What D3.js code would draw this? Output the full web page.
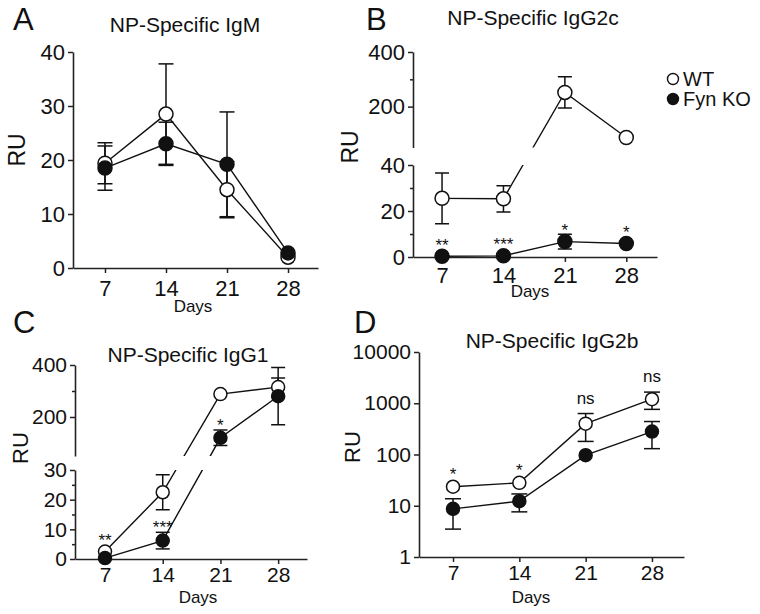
<!DOCTYPE html>
<html><head><meta charset="utf-8">
<script src="https://cdn.jsdelivr.net/npm/d3@7"></script>
<style>
body{margin:0;background:#fff}
svg{display:block}
text{font-family:"Liberation Sans",Arial,sans-serif;fill:#111}
</style>
</head><body>
<svg id="c" width="760" height="614"></svg>
<script>
// ---------------- data ----------------
const days = [7, 14, 21, 28];
const dayLabels = ["7", "14", "21", "28"];
const seriesNames = ["WT", "Fyn KO"];

// A: NP-Specific IgM
const igmWT     = [19.4, 28.5, 14.5, 2.0];
const igmWTErr  = [3.8, 9.3, 5.2, 0];
const igmKO     = [18.5, 23.0, 19.2, 2.8];
const igmKOErr  = [4.1, 4.0, 9.7, 0];
const igmTicks  = [0, 10, 20, 30, 40];

// B: NP-Specific IgG2c
const g2cWT     = [25.5, 25.3, 252, 87];
const g2cWTErr  = [11, 5.7, 57, 0];
const g2cKO     = [0.3, 0.5, 6.7, 5.9];
const g2cKOErr  = [0, 0, 3.2, 0];
const g2cSig    = ["**", "***", "*", "*"];
const g2cSigOn  = ["KO", "KO", "KO", "KO"];
const g2cLowTicks = [0, 20, 40],  g2cLowMinor = [10, 30];
const g2cHighTicks = [200, 400], g2cHighMinor = [300];

// C: NP-Specific IgG1
const g1WT      = [2.5, 22.5, 288, 315];
const g1WTErr   = [0, 5.9, 0, 35];
const g1KO      = [0.3, 6.2, 120, 280];
const g1KOErr   = [0, 2.8, 30, 110];
const g1Sig     = ["**", "***", "*", ""];
const g1SigOn   = ["WT", "KO", "KO", "KO"];
const g1LowTicks = [0, 10, 20, 30], g1LowMinor = [5, 15, 25];
const g1HighTicks = [200, 400],     g1HighMinor = [300];

// D: NP-Specific IgG2b (log scale, asymmetric bars)
const g2bWT     = [23.5, 28, 400, 1200];
const g2bWTLo   = [23.5, 28, 180, 760];
const g2bWTHi   = [23.5, 28, 630, 1650];
const g2bKO     = [8.7, 12.3, 97, 280];
const g2bKOLo   = [3.5, 7.6, 97, 130];
const g2bKOHi   = [13.7, 17, 97, 440];
const g2bSig    = ["*", "*", "ns", "ns"];
const g2bSigOn  = ["WT", "WT", "WT", "WT"];
const g2bTicks  = [1, 10, 100, 1000, 10000];

// ---------------- drawing ----------------
const svg = d3.select("#c");
const defs = svg.append("defs");
const FONT = '"Liberation Sans", Arial, sans-serif';

function styleAxis(a, fs) {
  a.selectAll("path.domain").attr("stroke", "#222").attr("stroke-width", 1.6);
  a.selectAll(".tick line").attr("stroke", "#222").attr("stroke-width", 1.5);
  a.selectAll("text").attr("font-size", fs).attr("font-family", FONT).attr("fill", "#111");
}

function drawPanel(p) {
  const g = svg.append("g");
  const x = d3.scaleLinear().domain(p.xDom).range([p.left, p.right]);
  const y = p.y;

  // clipping to hide line parts inside an axis break
  let clip = null;
  if (p.brk) {
    const id = "clip" + p.id;
    const cp = defs.append("clipPath").attr("id", id);
    cp.append("rect").attr("x", 0).attr("y", 0).attr("width", 760).attr("height", y(p.brk[1]));
    cp.append("rect").attr("x", 0).attr("y", y(p.brk[0])).attr("width", 760).attr("height", 700);
    clip = `url(#${id})`;
  }

  // x axis
  g.append("g").attr("transform", `translate(0,${p.bottom})`)
    .call(d3.axisBottom(x).tickValues(days).tickFormat((d, i) => dayLabels[i])
      .tickSize(5).tickSizeOuter(0).tickPadding(p.xPad))
    .call(a => styleAxis(a, p.tickFs));

  // y axis segments
  p.ySegs.forEach(s => {
    const sc = (p.log ? d3.scaleLog() : d3.scaleLinear()).domain(s.dom).range(s.dom.map(v => y(v)));
    g.append("g").attr("transform", `translate(${p.left},0)`)
      .call(d3.axisLeft(sc).tickValues(s.ticks).tickFormat(d3.format("d"))
        .tickSize(5).tickSizeOuter(0).tickPadding(3))
      .call(a => styleAxis(a, p.tickFs));
    if (s.minor && s.minor.length) {
      g.append("g").attr("transform", `translate(${p.left},0)`)
        .call(d3.axisLeft(sc).tickValues(s.minor).tickFormat("").tickSize(3).tickSizeOuter(0))
        .call(a => { styleAxis(a, p.tickFs); a.select("path.domain").remove(); });
    }
  });

  // series
  const lineGen = d3.line().x(d => x(d.day)).y(d => y(d.v));
  const plot = g.append("g");
  const bars = plot.append("g").attr("clip-path", clip);
  const lines = plot.append("g").attr("clip-path", clip);
  p.series.forEach(s => {
    const pts = days.map((d, i) => ({day: d, v: s.mean[i], lo: s.lo[i], hi: s.hi[i]}));
    lines.append("path").datum(pts).attr("d", lineGen)
      .attr("fill", "none").attr("stroke", "#111").attr("stroke-width", 1.4);
    pts.filter(d => d.hi > d.lo).forEach(d => {
      const cx = x(d.day), cw = p.cap;
      bars.append("line").attr("x1", cx).attr("x2", cx).attr("y1", y(d.lo)).attr("y2", y(d.hi));
      bars.append("line").attr("x1", cx - cw).attr("x2", cx + cw).attr("y1", y(d.lo)).attr("y2", y(d.lo));
      bars.append("line").attr("x1", cx - cw).attr("x2", cx + cw).attr("y1", y(d.hi)).attr("y2", y(d.hi));
    });
  });
  bars.selectAll("line").attr("stroke", "#111").attr("stroke-width", 1.5);
  p.series.forEach(s => {
    plot.selectAll(null).data(days.map((d, i) => ({day: d, v: s.mean[i]}))).enter()
      .append("circle").attr("cx", d => x(d.day)).attr("cy", d => y(d.v)).attr("r", p.r)
      .attr("fill", s.open ? "#fff" : "#111").attr("stroke", "#111").attr("stroke-width", 1.5);
  });

  // significance labels
  if (p.sig) {
    p.sig.forEach((lab, i) => {
      if (!lab) return;
      const s = p.series.find(q => q.key === p.sigOn[i]);
      const top = Math.min(y(s.hi[i]), y(s.mean[i]) - p.r);
      const isNs = lab === "ns";
      const base = isNs ? top - p.nsGap : top - p.sigGap + 9.5;
      g.append("text").attr("x", x(days[i])).attr("y", base).attr("text-anchor", "middle")
        .attr("font-size", 17).text(lab);
    });
  }

  // titles
  g.append("text").attr("x", p.titleX).attr("y", p.titleY).attr("text-anchor", "middle")
    .attr("font-size", 21).text(p.title);
  g.append("text").attr("x", p.letterX).attr("y", p.letterY).attr("font-size", 31).text(p.letter);
  g.append("text").attr("transform", `translate(${p.ruX},${p.ruY}) rotate(-90)`)
    .attr("text-anchor", "middle").attr("dominant-baseline", "central")
    .attr("font-size", p.ruFs).text("RU");
  g.append("text").attr("x", p.daysX).attr("y", p.daysY).attr("text-anchor", "middle")
    .attr("font-family", "Lato, 'Open Sans', sans-serif").attr("font-size", 17).text("Days");
}

function sym(mean, err) {
  return {mean, lo: mean.map((m, i) => m - err[i]), hi: mean.map((m, i) => m + err[i])};
}

// Panel A
drawPanel({
  id: "A", letter: "A", title: "NP-Specific IgM",
  xDom: [3.33, 31.44], left: 73, right: 318, bottom: 268, xPad: 7, tickFs: 22,
  y: d3.scaleLinear().domain([0, 40]).range([268, 52]),
  ySegs: [{dom: [0, 40], ticks: igmTicks}],
  series: [Object.assign({key: "WT", open: true}, sym(igmWT, igmWTErr)),
           Object.assign({key: "KO", open: false}, sym(igmKO, igmKOErr))],
  r: 7, cap: 7.5,
  titleX: 185, titleY: 32, letterX: 13, letterY: 30,
  ruX: 17, ruY: 150, ruFs: 23, daysX: 193, daysY: 312
});

// Panel B
drawPanel({
  id: "B", letter: "B", title: "NP-Specific IgG2c",
  xDom: [3.69, 31.5], left: 413, right: 657, bottom: 257, xPad: 5, tickFs: 22,
  y: d3.scaleLinear().domain([0, 40, 50, 400]).range([257, 165, 147.6, 52]),
  brk: [40, 50],
  ySegs: [{dom: [0, 40], ticks: g2cLowTicks, minor: g2cLowMinor},
          {dom: [50, 400], ticks: g2cHighTicks, minor: g2cHighMinor}],
  series: [Object.assign({key: "WT", open: true}, sym(g2cWT, g2cWTErr)),
           Object.assign({key: "KO", open: false}, sym(g2cKO, g2cKOErr))],
  sig: g2cSig, sigOn: g2cSigOn, sigGap: 8, nsGap: 10,
  r: 7, cap: 7,
  titleX: 533, titleY: 25, letterX: 366, letterY: 30,
  ruX: 350, ruY: 147, ruFs: 23, daysX: 530, daysY: 297
});

// Panel C
drawPanel({
  id: "C", letter: "C", title: "NP-Specific IgG1",
  xDom: [3.36, 31.5], left: 75, right: 307, bottom: 559, xPad: 3, tickFs: 21,
  y: d3.scaleLinear().domain([0, 30, 50, 400]).range([559, 470, 456, 365]),
  brk: [30, 50],
  ySegs: [{dom: [0, 30], ticks: g1LowTicks, minor: g1LowMinor},
          {dom: [50, 400], ticks: g1HighTicks, minor: g1HighMinor}],
  series: [Object.assign({key: "WT", open: true}, sym(g1WT, g1WTErr)),
           Object.assign({key: "KO", open: false}, sym(g1KO, g1KOErr))],
  sig: g1Sig, sigOn: g1SigOn, sigGap: 9, nsGap: 10,
  r: 6.5, cap: 7,
  titleX: 188, titleY: 362, letterX: 13, letterY: 333,
  ruX: 20, ruY: 448, ruFs: 22, daysX: 198, daysY: 603
});

// Panel D
drawPanel({
  id: "D", letter: "D", title: "NP-Specific IgG2b", log: true,
  xDom: [3.41, 31.38], left: 419, right: 684, bottom: 557, xPad: 3, tickFs: 21,
  y: d3.scaleLog().domain([1, 10000]).range([557, 352]),
  ySegs: [{dom: [1, 10000], ticks: g2bTicks}],
  series: [{key: "WT", open: true, mean: g2bWT, lo: g2bWTLo, hi: g2bWTHi},
           {key: "KO", open: false, mean: g2bKO, lo: g2bKOLo, hi: g2bKOHi}],
  sig: g2bSig, sigOn: g2bSigOn, sigGap: 10, nsGap: 10,
  r: 6.5, cap: 8,
  titleX: 552, titleY: 348, letterX: 354, letterY: 333,
  ruX: 352, ruY: 447, ruFs: 22, daysX: 531, daysY: 603
});

// Legend
const leg = svg.append("g");
seriesNames.forEach((name, i) => {
  const yy = 79 + i * 20;
  leg.append("circle").attr("cx", 673).attr("cy", yy).attr("r", 5.5)
    .attr("fill", i === 0 ? "#fff" : "#111").attr("stroke", "#111").attr("stroke-width", 1.4);
  leg.append("text").attr("x", 683).attr("y", yy).attr("dominant-baseline", "central")
    .attr("font-size", 20).text(name);
});
</script>
</body></html>
